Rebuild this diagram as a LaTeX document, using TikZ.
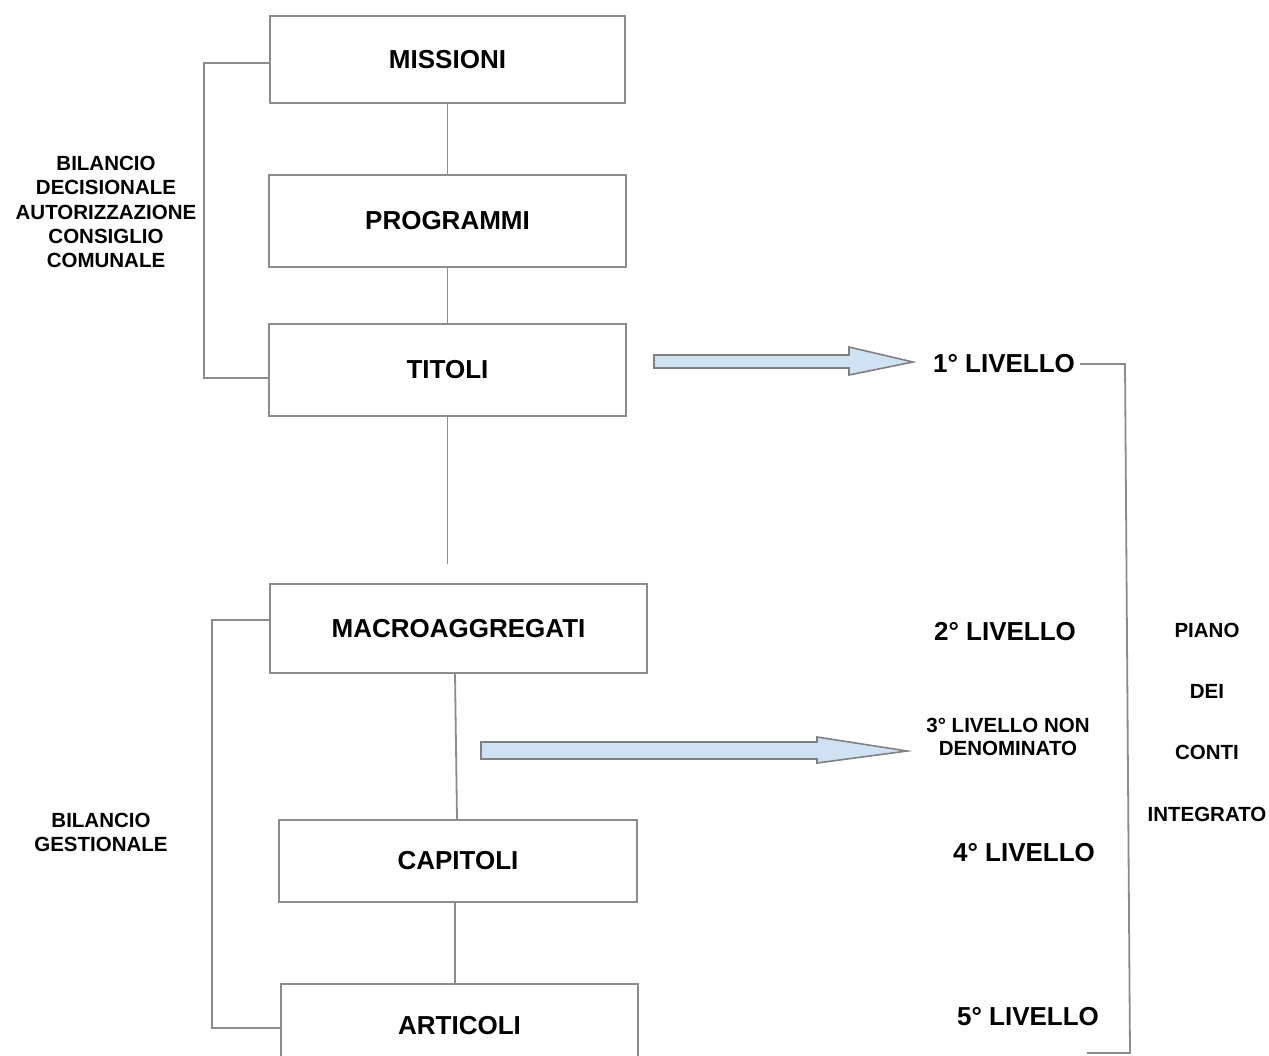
\documentclass[tikz,border=0pt]{standalone}
\usepackage{fontspec}
\setmainfont{Liberation Sans}
\definecolor{lg}{RGB}{140,140,140}
\definecolor{ab}{HTML}{CFE2F3}
\definecolor{ag}{RGB}{128,128,128}
\begin{document}
\begin{tikzpicture}[x=1pt,y=-1pt,
 box/.style={draw=lg,line width=1.8pt,inner sep=0pt,font=\fontsize{26}{30}\selectfont\bfseries},
 lvl/.style={inner sep=0pt,font=\fontsize{26}{30}\selectfont\bfseries},
 small/.style={inner sep=0pt,align=center,font=\fontsize{20.5}{24.3}\selectfont\bfseries},
 conn/.style={draw=lg,line width=1.8pt},
 barrow/.style={draw=ag,fill=ab,line width=1.6pt,line join=miter}]
\useasboundingbox (0,0) rectangle (1269,1055);
% boxes
\node[box,minimum width=355pt,minimum height=87pt] (mis) at (447.5,59.5) {MISSIONI};
\node[box,minimum width=357pt,minimum height=92pt] (prog) at (447.5,221) {PROGRAMMI};
\node[box,minimum width=357pt,minimum height=92pt] (tit) at (447.5,370) {TITOLI};
\node[box,minimum width=377pt,minimum height=89pt] (mac) at (458.5,628.5) {MACROAGGREGATI};
\node[box,minimum width=358pt,minimum height=82pt] (cap) at (458,861) {CAPITOLI};
\node[box,minimum width=357pt,minimum height=84pt] (art) at (459.5,1026) {ARTICOLI};
% vertical connectors
\coordinate (tend) at (447.5,564);
\draw[conn] (mis.south) -- (prog.north);
\draw[conn] (prog.south) -- (tit.north);
\draw[conn] (tit.south) -- (tend);
\draw[conn] ([xshift=-3.5pt]mac.south) -- ([xshift=-1pt]cap.north);
\draw[conn] ([xshift=-3pt]cap.south) -- ([xshift=-4.5pt]art.north);
% left brackets
\coordinate (lb1a) at (204,63);
\coordinate (lb1b) at (204,378);
\draw[conn] ([yshift=-3.5pt]mis.west) -- (lb1a) -- (lb1b) -- ([yshift=-8pt]tit.west);
\coordinate (lb2a) at (212,620);
\coordinate (lb2b) at (212,1028);
\draw[conn] ([yshift=8.5pt]mac.west) -- (lb2a) -- (lb2b) -- ([yshift=-2pt]art.west);
% left labels
\node[small] (bdec) at (106,212) {BILANCIO\\DECISIONALE\\AUTORIZZAZIONE\\CONSIGLIO\\COMUNALE};
\node[small] (bges) at (101,832.5) {BILANCIO\\GESTIONALE};
% level labels
\node[lvl] (l1) at (1004,364) {1° LIVELLO};
\node[lvl] (l2) at (1005,632) {2° LIVELLO};
\node[small,font=\fontsize{20.5}{23}\selectfont\bfseries] (l3) at (1008,737) {3° LIVELLO NON\\DENOMINATO};
\node[lvl] (l4) at (1024,853) {4° LIVELLO};
\node[lvl] (l5) at (1028,1017) {5° LIVELLO};
\node[small,font=\fontsize{20.5}{61.3}\selectfont\bfseries] (pci) at (1207,722) {PIANO\\DEI\\CONTI\\INTEGRATO};
% block arrows
\draw[barrow] (654,355) -- (849,355) -- (849,347) -- (913,362) -- (849,375) -- (849,368) -- (654,368) -- cycle;
\draw[barrow] (481,742) -- (817,742) -- (817,737) -- (907,751) -- (817,763) -- (817,759) -- (481,759) -- cycle;
% right bracket
\coordinate (rb1) at (1125,364);
\coordinate (rb2) at (1130,1053);
\coordinate (rb3) at (1087,1053);
\draw[conn] ([xshift=5pt]l1.east) -- (rb1) -- (rb2) -- (rb3);
\end{tikzpicture}
\end{document}
